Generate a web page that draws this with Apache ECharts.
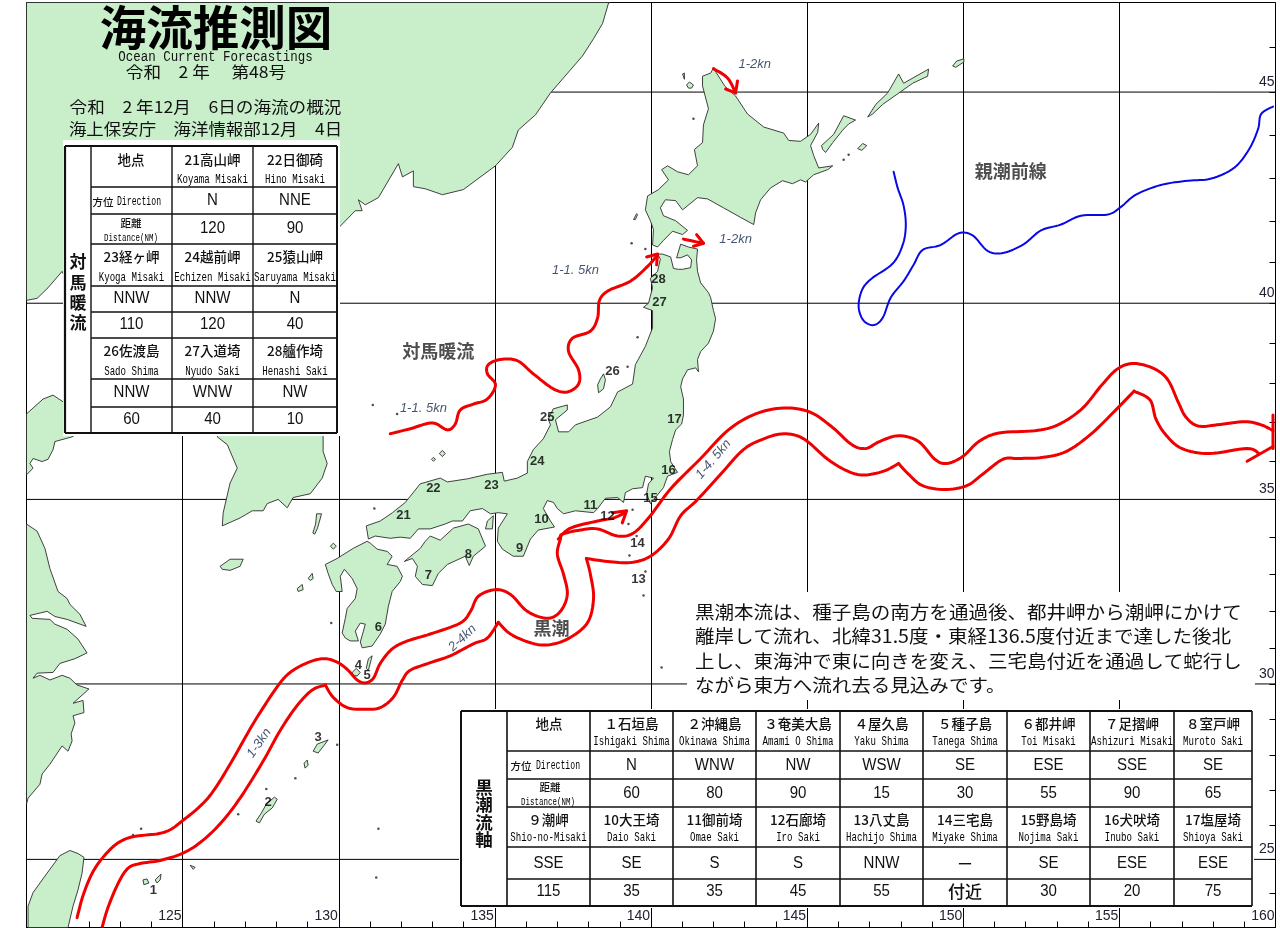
<!DOCTYPE html>
<html>
<head>
<meta charset="utf-8">
<title>海流推測図</title>
<style>
html, body { margin: 0; padding: 0; background: #fff; }
#chart { width: 1280px; height: 928px; }
</style>
<script src="https://cdn.jsdelivr.net/npm/echarts@6/dist/echarts.min.js"></script>
</head>
<body>
<div id="chart"></div>
<script>
// all outlines and currents are [lon, lat]
const lonMin = 120, lonMax = 160, latMin = 23, latMax = 47;
const latLines = [25, 30, 35, 40, 45];
const latTicks = [24, 25, 26, 27, 28, 29, 30, 31, 32, 33, 34, 35, 36, 37, 38, 39, 40, 41, 42, 43, 44, 45, 46];

const hokkaido = [[142.00,45.54],[142.36,45.14],[142.71,44.91],[143.09,44.50],[143.61,44.20],[144.25,44.06],[144.41,43.89],[144.79,43.87],[145.11,44.03],[145.37,44.29],[145.34,44.08],[145.11,43.77],[145.21,43.54],[145.37,43.25],[145.82,43.30],[145.66,43.21],[145.21,43.09],[144.95,42.92],[144.79,42.97],[144.53,42.88],[144.21,42.95],[143.83,42.78],[143.51,42.50],[143.35,42.19],[143.29,41.91],[142.87,42.08],[142.32,42.31],[141.81,42.52],[141.49,42.55],[141.01,42.26],[140.79,42.48],[140.46,42.50],[140.30,42.31],[140.40,42.12],[140.79,42.00],[141.17,41.77],[141.01,41.67],[140.69,41.75],[140.40,41.53],[140.21,41.37],[140.05,41.42],[140.08,41.79],[139.98,42.00],[139.82,42.26],[139.89,42.59],[140.24,42.74],[140.56,42.97],[140.34,43.21],[140.53,43.30],[140.85,43.16],[141.20,43.09],[141.49,43.30],[141.39,43.68],[141.65,43.84],[141.68,44.25],[141.84,44.62],[141.65,45.14],[141.65,45.36],[141.91,45.43]];
const honshu = [[140.21,41.20],[140.37,41.20],[140.63,41.13],[140.72,40.85],[140.88,40.83],[141.01,40.83],[141.27,40.87],[141.30,41.06],[141.17,41.18],[140.95,41.11],[140.82,41.11],[140.95,41.44],[141.20,41.37],[141.49,41.32],[141.46,41.06],[141.49,40.78],[141.59,40.50],[141.84,40.26],[141.91,40.14],[142.00,39.82],[142.07,39.62],[142.00,39.31],[141.84,39.01],[141.59,38.80],[141.49,38.60],[141.52,38.29],[141.43,38.39],[141.17,38.34],[141.01,38.11],[140.95,37.91],[141.04,37.60],[141.04,37.19],[140.98,36.96],[140.79,36.81],[140.69,36.56],[140.59,36.25],[140.63,35.99],[140.85,35.71],[140.53,35.61],[140.40,35.31],[140.14,35.05],[139.98,34.89],[139.86,35.15],[139.92,35.41],[140.08,35.56],[139.82,35.61],[139.73,35.31],[139.41,35.28],[139.18,35.18],[139.12,34.92],[138.93,35.05],[138.54,35.03],[138.29,34.76],[138.16,34.65],[137.58,34.70],[137.20,34.62],[137.00,34.76],[136.88,34.92],[136.68,34.97],[136.55,34.76],[136.78,34.43],[136.91,34.27],[136.39,34.19],[136.14,33.95],[135.91,33.49],[135.59,33.49],[135.24,33.68],[135.08,33.89],[135.11,34.24],[135.40,34.62],[135.11,34.65],[134.86,34.62],[134.60,34.76],[134.21,34.70],[133.96,34.43],[133.64,34.43],[133.41,34.35],[132.93,34.22],[132.55,34.22],[132.29,33.97],[131.97,34.00],[131.65,33.97],[131.17,34.03],[130.95,33.95],[130.88,34.30],[131.33,34.43],[131.72,34.65],[132.13,34.92],[132.61,35.41],[133.25,35.56],[133.48,35.46],[134.12,35.54],[134.76,35.66],[135.24,35.71],[135.30,35.48],[135.72,35.56],[136.04,35.69],[136.04,35.99],[136.23,36.30],[136.55,36.58],[136.78,36.94],[136.71,37.09],[136.87,37.35],[137.32,37.45],[137.32,37.32],[136.94,37.07],[137.04,36.76],[137.36,36.76],[137.58,36.94],[138.29,37.14],[138.70,37.40],[138.93,37.78],[139.41,37.98],[139.50,38.47],[139.82,38.93],[140.05,39.39],[140.05,39.82],[139.76,39.90],[139.92,40.00],[140.05,40.38],[139.98,40.61],[140.21,40.78],[140.30,41.08]];
const shikoku = [[132.93,34.03],[133.25,33.92],[133.67,34.24],[134.15,34.35],[134.47,34.22],[134.70,33.76],[134.31,33.49],[134.18,33.24],[134.05,33.49],[133.48,33.27],[133.19,33.03],[133.00,32.70],[132.68,32.73],[132.45,32.95],[132.52,33.22],[132.36,33.43],[132.10,33.35],[132.61,33.70],[132.77,33.89]];
const kyushu = [[130.91,33.89],[131.01,33.84],[131.23,33.68],[131.55,33.62],[131.71,33.49],[131.55,33.27],[131.87,33.22],[132.04,32.95],[131.97,32.81],[131.71,32.54],[131.59,32.14],[131.49,31.65],[131.33,31.38],[131.07,31.05],[130.75,31.00],[130.69,31.16],[130.79,31.46],[130.85,31.65],[130.69,31.68],[130.53,31.46],[130.63,31.19],[130.37,31.19],[130.21,31.27],[130.11,31.41],[130.21,31.81],[130.27,32.08],[130.53,32.35],[130.59,32.62],[130.43,32.89],[130.18,33.14],[130.05,32.95],[130.11,32.54],[129.92,32.54],[129.79,32.73],[129.66,33.03],[129.57,33.27],[129.95,33.43],[130.46,33.70]];
const eurasiaNorth = [[120,47],[138.70,47],[138.64,46.99],[138.45,46.54],[138.16,46.20],[137.80,45.81],[136.78,44.98],[136.30,44.48],[135.75,44.13],[135.56,43.73],[135.02,43.30],[133.99,42.74],[133.32,42.62],[132.77,42.76],[132.39,42.81],[132.39,43.18],[132.04,43.04],[131.91,43.35],[131.27,42.55],[130.85,42.38],[130.63,42.50],[130.75,42.24],[130.53,42.24],[129.98,41.82],[129.70,40.80],[128.60,40.20],[127.70,39.70],[128.30,38.90],[129.20,37.70],[129.50,36.63],[129.50,36.25],[129.63,35.94],[129.47,35.56],[129.09,35.15],[128.54,35.05],[128.35,34.78],[128.06,35.00],[127.71,34.89],[127.58,34.70],[127.23,34.70],[126.84,34.51],[126.62,34.43],[126.27,34.30],[126.30,34.65],[126.52,35.43],[126.75,35.82],[126.43,36.43],[126.11,36.63],[126.60,37.60],[125.20,38.00],[125.30,39.50],[124.00,39.90],[122.50,39.40],[121.50,40.20],[121.14,40.78],[120.69,40.38],[120.34,40.12],[120,40.07]];
const shandong = [[120,37.22],[120.53,37.60],[120.85,37.70],[121.17,37.53],[121.70,37.30],[121.80,36.80],[121.46,36.63],[120.91,36.51],[120.85,36.30],[120.69,36.05],[120.50,35.99],[120.21,36.07],[120.11,35.94],[120.21,35.82],[120.02,35.66],[120,35.66]];
const chinaEast = [[120,34.35],[120.34,34.16],[120.59,33.70],[120.75,33.16],[121.01,32.54],[121.30,32.35],[121.39,32.19],[121.71,31.92],[121.91,31.59],[121.30,31.78],[120.91,31.86],[120.66,32.00],[120.11,31.89],[120.18,31.81],[120.75,31.78],[120.91,31.65],[121.30,31.51],[121.65,31.24],[121.94,30.86],[121.55,30.70],[121.07,30.57],[120.85,30.32],[120.34,30.30],[120.21,30.16],[120.43,30.24],[120.75,30.11],[121.14,30.24],[121.39,30.16],[121.62,29.97],[122.00,29.86],[121.49,29.46],[121.81,29.54],[121.84,29.20],[121.49,29.11],[121.55,28.91],[121.43,28.60],[121.46,28.40],[121.33,28.11],[121.14,28.26],[120.75,27.74],[120.50,27.46],[120.43,27.17],[120.05,26.77],[120,26.60]];
const taiwan = [[120.05,23],[120.05,23.63],[120.21,24.03],[120.66,24.60],[121.07,25.11],[121.39,25.26],[121.65,25.17],[121.84,25.06],[121.78,24.60],[121.65,24.11],[121.49,23.63],[121.33,23]];
const islands = [
  [[141.14,45.16],[141.23,45.23],[141.36,45.16],[141.30,45.09],[141.20,45.09]],
  [[141.01,45.41],[141.07,45.43],[141.07,45.29]],
  [[139.44,42.03],[139.54,42.17],[139.57,42.15],[139.50,42.03]],
  [[145.46,43.77],[145.85,44.03],[146.17,44.46],[146.55,44.36],[146.33,44.27],[146.14,44.13],[145.82,43.84],[145.59,43.61],[145.50,43.68]],
  [[146.94,44.43],[147.20,44.72],[147.58,44.98],[147.93,45.41],[148.09,45.20],[148.89,45.52],[148.86,45.36],[148.38,45.20],[147.90,44.96],[147.42,44.72],[147.10,44.50]],
  [[146.62,43.70],[146.78,43.82],[146.91,43.77],[146.75,43.66]],
  [[149.66,45.59],[149.79,45.70],[150.02,45.75],[150.02,45.68],[149.76,45.56]],
  [[138.48,38.24],[138.54,38.09],[138.48,37.86],[138.32,37.76],[138.29,37.96],[138.38,38.11]],
  [[134.95,34.57],[134.92,34.22],[134.70,34.22],[134.76,34.43]],
  [[130.43,30.32],[130.56,30.43],[130.69,30.32],[130.59,30.22],[130.46,30.24]],
  [[131.07,30.78],[130.95,30.38],[130.88,30.43],[130.95,30.70]],
  [[128.67,32.62],[128.83,32.73],[128.86,32.59],[128.70,32.54]],
  [[129.02,32.89],[129.15,33.03],[129.18,32.89],[129.09,32.84]],
  [[129.29,34.62],[129.45,34.62],[129.32,34.24],[129.23,34.08],[129.17,34.11],[129.26,34.35]],
  [[129.73,33.76],[129.83,33.84],[129.92,33.76],[129.83,33.68]],
  [[126.20,33.22],[126.52,33.41],[126.94,33.41],[126.84,33.22],[126.52,33.11],[126.27,33.14]],
  [[133.22,36.20],[133.32,36.28],[133.41,36.20],[133.32,36.12]],
  [[132.97,36.05],[133.03,36.10],[133.10,36.05],[133.03,36.00]],
  [[129.18,28.11],[129.31,28.31],[129.66,28.43],[129.56,28.31],[129.34,28.06]],
  [[127.35,26.11],[127.52,26.34],[127.68,26.60],[127.94,26.80],[128.03,26.74],[127.87,26.49],[127.62,26.31],[127.46,26.06]],
  [[128.89,27.77],[128.99,27.86],[129.02,27.71],[128.92,27.63]],
  [[125.24,24.83],[125.40,24.77],[125.34,24.71]],
  [[124.12,24.40],[124.31,24.57],[124.28,24.40],[124.18,24.31]],
  [[123.73,24.40],[123.86,24.43],[123.92,24.31],[123.76,24.26]]
];
const islets = [[141.36,44.39],[139.38,41.46],[139.82,41.32],[139.57,39.16],[139.25,38.42],[131.14,34.76],[131.87,37.22],[139.41,34.73],[139.28,34.35],[139.54,34.03],[139.31,33.51],[139.82,33.08],[139.76,32.43],[140.34,30.46],[146.17,43.44],[146.33,43.56],[128.61,27.34],[127.68,27.03],[126.78,26.31],[129.95,28.29],[131.27,25.89],[131.20,24.47],[123.41,25.71],[123.67,25.89],[129.76,31.68],[131.09,37.45]];

const kuroUpper = [[121.62,23.29],[121.81,23.94],[122.10,24.59],[122.45,25.06],[122.90,25.46],[123.41,25.66],[124.18,25.74],[124.60,25.86],[124.98,26.11],[125.56,26.54],[125.98,26.97],[126.52,27.74],[127.07,28.60],[127.48,29.20],[128.12,30.03],[128.54,30.38],[129.09,30.62],[129.57,30.70],[129.98,30.59],[130.30,30.38],[130.59,30.11],[130.85,30.03],[131.11,30.16],[131.33,30.57],[131.71,30.97],[132.20,31.19],[132.93,31.38],[133.89,31.68],[134.22,32.00],[134.47,32.41],[135.02,32.59],[135.50,32.46],[136.04,32.00],[136.68,31.81],[137.10,32.00],[137.32,32.46],[137.20,33.00],[137.00,33.54],[137.10,33.95],[137.16,34.08],[137.74,34.19],[138.29,34.22],[138.93,34.03],[139.44,34.11],[139.98,34.57],[140.63,35.28],[141.59,36.07],[142.48,36.81],[143.35,37.22],[144.25,37.37],[145.08,37.27],[145.79,36.89],[146.43,36.43],[146.88,36.33],[147.32,36.51],[147.93,36.66],[148.57,36.51],[149.09,36.05],[149.47,35.94],[149.98,36.12],[150.50,36.51],[151.14,36.73],[152.29,36.79],[153.03,36.94],[153.80,37.35],[154.44,37.96],[154.95,38.37],[155.47,38.50],[156.11,38.37],[156.55,38.09],[156.88,37.53],[157.13,37.14],[157.52,36.91],[158.13,36.94],[159.02,37.02],[159.54,36.94],[159.92,36.79]];
const kuroLowerA = [[122.42,23.00],[122.61,23.59],[122.93,24.29],[123.25,24.74],[123.64,24.88],[124.28,24.97],[124.98,25.17],[125.56,25.49],[126.20,26.03],[126.84,26.77],[127.58,27.83],[128.12,28.69],[128.67,29.40],[129.15,29.83],[129.57,29.97]];
const kuroLowerB = [[129.57,29.97],[129.82,29.63],[130.27,29.34],[130.85,29.29],[131.33,29.34],[131.75,29.63],[132.04,30.11],[132.29,30.38],[132.93,30.59],[133.57,30.78],[134.31,31.11],[134.76,31.27],[135.11,31.70]];
const kuroLowerC = [[135.11,31.70],[135.50,31.38],[136.14,31.14],[136.68,31.08],[137.32,31.24],[137.96,31.68],[138.16,32.35],[138.06,33.00],[137.93,33.43]];
const kuroLowerD = [[137.93,33.43],[138.61,33.35],[139.34,33.32],[139.98,33.49],[140.56,33.95],[140.95,34.57],[141.46,34.97],[142.23,35.66],[142.96,36.30],[143.61,36.58],[144.25,36.71],[144.89,36.58],[145.66,36.05],[146.30,35.74],[146.81,35.64],[147.45,35.74],[147.93,35.94]];
const kuroLowerE = [[147.93,35.94],[148.25,35.66],[148.70,35.36],[149.41,35.26],[150.11,35.36],[150.62,35.66],[151.27,36.05],[151.78,36.07],[152.55,36.10],[153.29,36.25],[154.06,36.68],[154.82,37.27],[155.47,37.80]];
const kuroLowerF = [[155.47,37.80],[155.98,37.58],[156.17,37.09],[156.49,36.68],[157.00,36.33],[157.87,36.20],[159.09,36.33],[159.47,36.20]];
const iroBranch = [[137.03,33.95],[137.42,34.24],[138.29,34.43],[138.80,34.51],[139.18,34.65]];
const tsushimaCurrent = [[131.65,36.71],[132.29,36.84],[133.00,36.99],[133.48,36.81],[133.73,36.96],[133.89,37.32],[134.31,37.47],[134.76,37.60],[135.02,37.96],[134.76,38.24],[134.79,38.47],[135.18,38.60],[135.72,38.57],[136.23,38.24],[136.87,37.86],[137.32,37.78],[137.68,37.98],[137.68,38.34],[137.36,38.80],[137.48,39.13],[138.06,39.31],[138.29,39.64],[138.35,40.07],[138.64,40.31],[139.34,40.54],[139.89,40.90],[140.21,41.18]];
const soyaCurrent = [[142.00,45.53],[142.45,45.32],[142.71,44.98]];
const tsugaruCurrent = [[141.04,41.56],[141.68,41.46]];
const arrowStrokes = [
  [[159.92,37.19],[159.92,36.33]],
  [[159.92,36.38],[159.09,36.00]],
  [[138.77,34.65],[139.22,34.70],[139.08,34.38]],
  [[139.86,41.13],[140.21,41.20],[140.18,40.94]],
  [[142.39,45.07],[142.71,44.98],[142.77,45.25]],
  [[141.46,41.67],[141.68,41.46],[141.36,41.39]]
];
const oyashioFront = [[147.77,43.16],[147.90,42.78],[148.09,42.36],[148.16,41.88],[148.06,41.42],[147.74,40.97],[147.04,40.59],[146.75,40.31],[146.65,39.90],[146.81,39.57],[147.13,39.46],[147.42,39.64],[147.68,40.14],[148.09,40.54],[148.41,40.94],[148.70,41.30],[149.28,41.42],[149.85,41.70],[150.30,41.65],[150.79,41.27],[151.30,41.23],[151.94,41.44],[152.49,41.77],[153.13,41.91],[153.77,42.12],[154.63,42.15],[155.05,42.33],[155.53,42.62],[156.33,42.85],[157.20,42.95],[157.94,43.00],[158.67,43.25],[159.15,43.68],[159.44,44.15],[159.54,44.50],[159.92,44.67]];

const pointNames = ['1','2','3','4','5','6','7','8','9','10','11','12','13','14','15','16','17','21','22','23','24','25','26','27','28'];
const pointCoords = [[124.06,24.09],[127.74,26.66],[129.34,28.51],[130.63,30.51],[130.91,30.24],[131.27,31.57],[132.87,32.97],[134.15,33.54],[135.79,33.70],[136.49,34.46],[138.06,34.84],[138.61,34.54],[139.60,32.86],[139.57,33.84],[139.98,35.03],[140.56,35.77],[140.75,37.07],[132.07,34.57],[133.03,35.28],[134.89,35.36],[136.36,35.99],[136.68,37.14],[138.77,38.29],[140.27,40.02],[140.24,40.59]];
const speedLabels = ['1-2kn','1-2kn','1-1. 5kn','1-1. 5kn','1-4. 5kn','2-4kn','1-3kn'];
const speedCoords = [[143.32,45.63],[142.71,41.56],[137.58,40.80],[132.71,37.37],[142.00,36.05],[133.96,31.27],[127.45,28.34]];
const currentNames = ['対馬暖流','親潮前線','黒潮'];
const currentCoords = [[133.19,38.80],[151.52,43.18],[136.81,31.54]];

const tsuNames = ['21高山岬','22日御碕','23経ヶ岬','24越前岬','25猿山岬','26佐渡島','27入道埼','28艫作埼'];
const tsuNamesEn = ['Koyama Misaki','Hino Misaki','Kyoga Misaki','Echizen Misaki','Saruyama Misaki','Sado Shima','Nyudo Saki','Henashi Saki'];
const tsuDirection = ['N','NNE','NNW','NNW','N','NNW','WNW','NW'];
const tsuDistance = ['120','90','110','120','40','60','40','10'];

const kuroNames = ['１石垣島','２沖縄島','３奄美大島','４屋久島','５種子島','６都井岬','７足摺岬','８室戸岬','９潮岬','10大王埼','11御前埼','12石廊埼','13八丈島','14三宅島','15野島埼','16犬吠埼','17塩屋埼'];
const kuroNamesEn = ['Ishigaki Shima','Okinawa Shima','Amami O Shima','Yaku Shima','Tanega Shima','Toi Misaki','Ashizuri Misaki','Muroto Saki','Shio-no-Misaki','Daio Saki','Omae Saki','Iro Saki','Hachijo Shima','Miyake Shima','Nojima Saki','Inubo Saki','Shioya Saki'];
const kuroDirection = ['N','WNW','NW','WSW','SE','ESE','SSE','SE','SSE','SE','S','S','NNW','－','SE','ESE','ESE'];
const kuroDistance = ['60','80','90','15','30','55','90','65','115','35','35','45','55','付近','30','20','75'];

const summaryLines = [
  '黒潮本流は、種子島の南方を通過後、都井岬から潮岬にかけて',
  '離岸して流れ、北緯31.5度・東経136.5度付近まで達した後北',
  '上し、東海沖で東に向きを変え、三宅島付近を通過して蛇行し',
  'ながら東方へ流れ去る見込みです。'
];

const JP = '"Noto Sans CJK JP"', MONO = '"Liberation Mono"', SANS = '"Liberation Sans"', NARROW = '"Liberation Sans Narrow","Liberation Sans"';
const RED = '#f00000', BLUE = '#0808e6';

// y axis is linear in Mercator northing, lat goes through this
function merc(lat) { return Math.log(Math.tan(Math.PI / 4 + lat * Math.PI / 360)); }
function unmerc(m) { return (2 * Math.atan(Math.exp(m)) - Math.PI / 2) * 180 / Math.PI; }
function proj(line) { return line.map(c => [c[0], merc(c[1])]); }

const landPolys = [hokkaido, honshu, shikoku, kyushu, eurasiaNorth, shandong, chinaEast, taiwan].concat(islands);
const curves = [kuroUpper, kuroLowerA, kuroLowerB, kuroLowerC, kuroLowerD, kuroLowerE, kuroLowerF, iroBranch, tsushimaCurrent, soyaCurrent, tsugaruCurrent, oyashioFront];
const curveColor = curves.map(c => (c === oyashioFront ? BLUE : RED));
const curveWidth = curves.map(c => (c === oyashioFront ? 2 : 3));

// line series smoothing kinks at our spacing, so the spline is drawn in screen space
function spline(pts) {
  const out = [];
  for (let i = 0; i < pts.length - 1; i++) {
    const p0 = pts[Math.max(i - 1, 0)], p1 = pts[i], p2 = pts[i + 1], p3 = pts[Math.min(i + 2, pts.length - 1)];
    for (let k = 0; k < 8; k++) {
      const t = k / 8, t2 = t * t, t3 = t2 * t;
      out.push([0, 1].map(d => 0.5 * (2 * p1[d] + (p2[d] - p0[d]) * t + (2 * p0[d] - 5 * p1[d] + 4 * p2[d] - p3[d]) * t2 + (3 * p1[d] - p0[d] - 3 * p2[d] + p3[d]) * t3)));
    }
  }
  out.push(pts[pts.length - 1]);
  return out;
}

// ---- graphic helpers for the title and the two tables ----
function tx(text, x, y, size, o) {
  o = o || {};
  return {
    type: 'text', x: x, y: y, z: 60, scaleX: o.sx || 1, scaleY: o.sy || 1, silent: true,
    style: {
      text: text, fontFamily: o.font || JP, fontSize: size, fontWeight: o.weight || 'normal',
      fill: o.fill || '#111', align: o.align || 'center', verticalAlign: 'middle'
    }
  };
}
function en(text, x, y) { return tx(text, x, y, 13, { font: MONO, sx: 0.7, fill: '#000' }); }
function val(text, x, y) {
  if (/^[\u3000-\u9fff\uff00-\uffef]/.test(text)) return tx(text, x, y, 17, { weight: 500 });
  return tx(text, x, y, 16, { font: SANS, sx: 0.94 });
}
function hline(x1, x2, y, w) { return { type: 'line', z: 59, silent: true, shape: { x1: x1, y1: y, x2: x2, y2: y }, style: { stroke: '#111', lineWidth: w || 1.4 } }; }
function vline(x, y1, y2, w) { return { type: 'line', z: 59, silent: true, shape: { x1: x, y1: y1, x2: x, y2: y2 }, style: { stroke: '#111', lineWidth: w || 1.4 } }; }
function white(x, y, w, h) { return { type: 'rect', z: 58, silent: true, shape: { x: x, y: y, width: w, height: h }, style: { fill: '#fff' } }; }

function leftTable() {
  const cols = [91, 172, 253, 337], rows = [146, 187, 214, 244, 286, 312, 338, 379, 407, 433];
  const out = [white(63, 140, 277, 296)];
  rows.forEach((y, i) => out.push(hline(i === 0 || i === 9 ? 65 : 91, 337, y, (i === 0 || i === 9) ? 2 : 1.4)));
  out.push(vline(65, 146, 433, 2.2));
  cols.forEach((x, i) => out.push(vline(x, 146, 433, i === 3 ? 2 : 1.4)));
  out.push(tx('地点', 131, 160, 13.5, { weight: 500 }));
  out.push(tx('方位', 103, 202, 10.5, { weight: 500 }));
  out.push(tx('Direction', 139, 202, 12, { font: MONO, sx: 0.68, fill: '#000' }));
  out.push(tx('距離', 131, 223, 10.5, { weight: 500 }));
  out.push(tx('Distance(NM)', 131, 238, 11, { font: MONO, sx: 0.68, fill: '#000' }));
  '対馬暖流'.split('').forEach((c, i) => out.push(tx(c, 78, 262 + i * 20.3, 17, { weight: 'bold' })));
  // block 0 has only two stations because of the 地点 cell
  const slots = [[1, 0], [2, 0], [0, 1], [1, 1], [2, 1], [0, 2], [1, 2], [2, 2]];
  const ys = [[160, 180, 201, 229], [257, 278, 299, 325], [351, 372, 393, 420]];
  slots.forEach((s, i) => {
    const cx = (cols[s[0]] + cols[s[0] + 1]) / 2, r = ys[s[1]];
    out.push(tx(tsuNames[i], cx, r[0], 13.5, { weight: 500 }));
    out.push(en(tsuNamesEn[i], cx, r[1]));
    out.push(val(tsuDirection[i], cx, r[2]));
    out.push(val(tsuDistance[i], cx, r[3]));
  });
  return out;
}
function bottomTable() {
  const cols = [507, 590, 673, 756, 840, 923, 1007, 1090, 1174, 1252], rows = [711, 751, 779, 807, 847, 879, 906];
  const out = [white(459, 709, 795, 199)];
  rows.forEach((y, i) => out.push(hline(i === 0 || i === 6 ? 461 : 507, 1252, y, (i === 0 || i === 6) ? 2 : 1.4)));
  out.push(vline(461, 711, 906, 2));
  cols.forEach(x => out.push(vline(x, 711, 906, 1.6)));
  out.push(tx('地点', 549, 724, 13.5, { weight: 500 }));
  out.push(tx('方位', 521, 766, 10.5, { weight: 500 }));
  out.push(tx('Direction', 558, 766, 12, { font: MONO, sx: 0.68, fill: '#000' }));
  out.push(tx('距離', 550, 787, 10.5, { weight: 500 }));
  out.push(tx('Distance(NM)', 548, 802, 11, { font: MONO, sx: 0.68, fill: '#000' }));
  '黒潮流軸'.split('').forEach((c, i) => out.push(tx(c, 484, 787 + i * 17.6, 17.5, { weight: 'bold' })));
  kuroNames.forEach((name, i) => {
    const second = i >= 8;
    const col = second ? i - 8 : i + 1;
    const cx = (cols[col] + cols[col + 1]) / 2;
    out.push(tx(name, cx, second ? 820 : 724, 13.5, { weight: 500 }));
    out.push(en(kuroNamesEn[i], cx, second ? 838 : 742));
    out.push(val(kuroDirection[i], cx, second ? 864 : 766));
    out.push(val(kuroDistance[i], cx, second ? 892 : 794));
  });
  return out;
}
function headerTexts() {
  return [
    tx('海流推測図', 216, 27, 46.5, { weight: 'bold', fill: '#000' }),
    tx('Ocean Current Forecastings', 215.5, 57, 14, { font: MONO, sx: 0.89, fill: '#111' }),
    tx('令和　2 年　 第48号', 206, 72, 16, { sx: 1.1 }),
    tx('令和　2 年12月　6日の海流の概況', 205.5, 107, 16, { sx: 1.1 }),
    tx('海上保安庁　海洋情報部12月　4日', 205.5, 129, 16, { sx: 1.09 })
  ];
}
function summaryTexts() {
  const out = [white(687, 592, 568, 108)];
  const ys = [612, 636, 661, 685];
  summaryLines.forEach((s, i) => out.push(tx(s, 695, ys[i], 18, { align: 'left', sx: 1.085 })));
  return out;
}

const speedTilt = [0, 0, 0, 0, 50, 43, 55];

const option = {
  animation: false,
  backgroundColor: '#fff',
  grid: { left: 26.5, right: 4.5, top: 2.5, bottom: 0.5, show: true, borderColor: '#000', borderWidth: 1, containLabel: false },
  xAxis: {
    type: 'value', min: lonMin, max: lonMax, interval: 5,
    axisLine: { show: false },
    axisTick: { show: true, inside: true, length: 6, lineStyle: { color: '#000' } },
    minorTick: { show: true, splitNumber: 5, length: 6, lineStyle: { color: '#000' } },
    splitLine: { show: true, lineStyle: { color: '#000', width: 1 } },
    axisLabel: {
      inside: true, align: 'right', verticalAlign: 'bottom', margin: 4, padding: [0, 1, 0, 0],
      showMinLabel: false, showMaxLabel: true, alignMaxLabel: 'right',
      fontFamily: NARROW, fontSize: 14, color: '#223'
    }
  },
  yAxis: {
    type: 'value', position: 'right', min: merc(latMin), max: merc(latMax),
    axisLine: { show: false },
    axisTick: { show: true, inside: true, length: 6, customValues: latTicks.map(merc), lineStyle: { color: '#000' } },
    splitLine: { show: false },
    axisLabel: {
      inside: true, align: 'right', verticalAlign: 'bottom', margin: 1, padding: [0, 0, 3, 0],
      customValues: latLines.map(merc),
      formatter: v => String(Math.round(unmerc(v))),
      fontFamily: NARROW, fontSize: 14, color: '#223'
    }
  },
  series: [
    {
      // the latitude grid has to sit at Mercator positions, so it is one broken line
      type: 'line', z: 1, silent: true, symbol: 'none', showSymbol: false, connectNulls: false,
      data: latLines.flatMap(lat => [[lonMin, merc(lat)], [lonMax, merc(lat)], [lonMin, null]]),
      lineStyle: { color: '#000', width: 1 }
    },
    {
      type: 'custom', z: 2, silent: true, clip: true, coordinateSystem: 'cartesian2d',
      data: landPolys.map((p, i) => [p[0][0], merc(p[0][1]), i]),
      encode: { x: 0, y: 1 },
      renderItem: function (params, api) {
        const poly = landPolys[api.value(2)];
        return {
          type: 'polygon',
          shape: { points: poly.map(c => api.coord([c[0], merc(c[1])])) },
          style: { fill: '#c8eeca', stroke: '#2c2c2c', lineWidth: 0.9 }
        };
      }
    },
    {
      type: 'scatter', z: 3, silent: true, symbol: 'circle', symbolSize: 2.5,
      itemStyle: { color: '#222' }, data: proj(islets)
    },
    {
      // currents
      type: 'custom', z: 4, silent: true, clip: true, coordinateSystem: 'cartesian2d',
      data: curves.map((p, i) => [p[0][0], merc(p[0][1]), i]),
      encode: { x: 0, y: 1 },
      renderItem: function (params, api) {
        const i = api.value(2);
        return {
          type: 'polyline',
          shape: { points: spline(curves[i].map(c => api.coord([c[0], merc(c[1])]))) },
          style: { fill: null, stroke: curveColor[i], lineWidth: curveWidth[i], lineCap: 'round', lineJoin: 'round' }
        };
      }
    },
    {
      // arrowheads and the end bar are straight strokes
      type: 'custom', z: 4, silent: true, clip: true, coordinateSystem: 'cartesian2d',
      data: arrowStrokes.map((p, i) => [p[0][0], merc(p[0][1]), i]),
      encode: { x: 0, y: 1 },
      renderItem: function (params, api) {
        return {
          type: 'polyline',
          shape: { points: arrowStrokes[api.value(2)].map(c => api.coord([c[0], merc(c[1])])) },
          style: { fill: null, stroke: RED, lineWidth: 3, lineCap: 'round', lineJoin: 'round' }
        };
      }
    },
    {
      // station numbers
      type: 'scatter', z: 5, silent: true, symbolSize: 0,
      data: pointNames.map((n, i) => ({ name: n, value: [pointCoords[i][0], merc(pointCoords[i][1])] })),
      label: { show: true, position: 'inside', formatter: '{b}', fontFamily: NARROW, fontSize: 13, fontWeight: 'bold', color: '#000' }
    },
    {
      type: 'scatter', z: 5, silent: true, symbolSize: 0,
      data: speedLabels.map((n, i) => ({
        name: n, value: [speedCoords[i][0], merc(speedCoords[i][1])],
        label: { rotate: speedTilt[i] }
      })),
      label: { show: true, position: 'inside', formatter: '{b}', fontFamily: NARROW, fontStyle: 'italic', fontSize: 13, color: '#14284a' }
    },
    {
      type: 'scatter', z: 5, silent: true, symbolSize: 0,
      data: currentNames.map((n, i) => ({ name: n, value: [currentCoords[i][0], merc(currentCoords[i][1])] })),
      label: { show: true, position: 'inside', formatter: '{b}', fontFamily: JP, fontSize: 18, fontWeight: 'bold', color: '#222' }
    }
  ],
  graphic: { elements: [].concat(headerTexts(), leftTable(), summaryTexts(), bottomTable()) }
};

const chart = echarts.init(document.getElementById('chart'), null, { renderer: 'canvas' });
chart.setOption(option);
</script>
</body>
</html>
